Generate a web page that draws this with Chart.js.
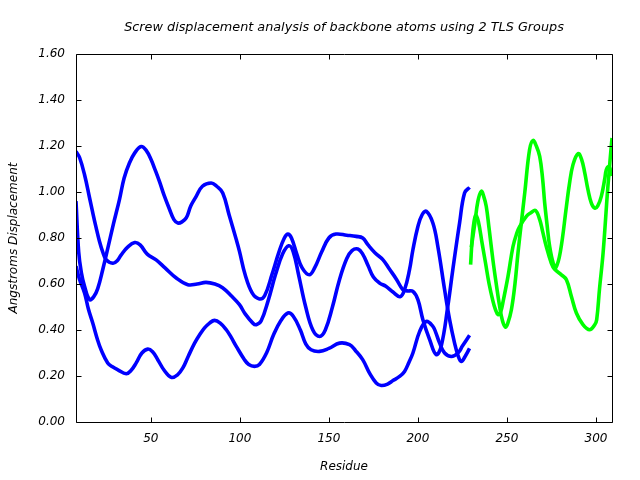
<!DOCTYPE html>
<html>
<head>
<meta charset="utf-8">
<script src="https://cdn.jsdelivr.net/npm/chart.js@4/dist/chart.umd.min.js"></script>
<style>
  html, body { margin: 0; padding: 0; background: #fff; }
  canvas { display: block; }
</style>
</head>
<body>
<canvas id="c" width="640" height="480"></canvas>
<script>
// ---- Data ----
const chartTitle = 'Screw displacement analysis of backbone atoms using 2 TLS Groups';
const xAxisTitle = 'Residue';
const yAxisTitle = 'Angstroms Displacement';
const xTickValues = [50, 100, 150, 200, 250, 300];
const yTickValues = [0.0, 0.2, 0.4, 0.6, 0.8, 1.0, 1.2, 1.4, 1.6];

// TLS group 1 (blue), three screw components
const group1AResidues = [8, 9.5, 11, 12.8, 15.6, 18, 20.2, 23, 26, 29, 32.4, 35, 38, 41, 44.6, 47.5, 50.2, 52.5, 54.9, 57.5, 60.5, 63, 65.2, 67.5, 69.9, 72.5, 75.5, 79, 83.9, 87, 90.4, 94, 98, 99.8, 103, 107, 111, 114, 118, 122, 125, 127, 129, 132, 135, 139, 142, 146, 150, 154, 160, 165.4, 169, 172, 176, 180.3, 184, 188, 191.6, 194, 197.2, 200, 202.8, 206.6, 210.3, 213.1, 216.8, 219.6, 223.4, 226.2, 229];
const group1AValues = [0.96, 0.74, 0.65, 0.59, 0.532, 0.545, 0.58, 0.662, 0.76, 0.86, 0.967, 1.06, 1.126, 1.17, 1.198, 1.18, 1.14, 1.095, 1.045, 0.985, 0.925, 0.88, 0.865, 0.87, 0.887, 0.94, 0.981, 1.025, 1.039, 1.025, 0.996, 0.90, 0.793, 0.742, 0.64, 0.56, 0.535, 0.55, 0.64, 0.74, 0.80, 0.817, 0.80, 0.73, 0.67, 0.64, 0.67, 0.74, 0.80, 0.817, 0.812, 0.807, 0.80, 0.77, 0.735, 0.706, 0.665, 0.62, 0.575, 0.57, 0.568, 0.532, 0.445, 0.358, 0.293, 0.33, 0.503, 0.662, 0.865, 0.996, 1.02];

const group1BResidues = [8, 10, 12.8, 15.6, 17.4, 19.3, 21.2, 23, 24.9, 28.7, 31, 33.4, 37, 41, 44, 48, 53, 58, 64.3, 70.8, 76, 81, 86, 90.3, 95, 99.8, 103, 107.3, 109.2, 112, 116, 120, 124, 127.5, 130, 133, 137, 141, 144.8, 148, 152, 156, 160, 163, 166.3, 169, 172, 175, 178.5, 182, 186, 190, 192.5, 195.3, 197.2, 200, 202.3, 204.7, 208.4, 211.2, 215, 217.8, 220.6, 222.5, 224.4, 226.5, 229];
const group1BValues = [1.176, 1.15, 1.075, 0.975, 0.91, 0.845, 0.785, 0.74, 0.706, 0.69, 0.70, 0.727, 0.76, 0.78, 0.77, 0.73, 0.705, 0.67, 0.626, 0.597, 0.600, 0.607, 0.60, 0.584, 0.55, 0.51, 0.47, 0.43, 0.423, 0.44, 0.53, 0.64, 0.73, 0.766, 0.74, 0.64, 0.50, 0.40, 0.372, 0.40, 0.50, 0.62, 0.71, 0.745, 0.752, 0.73, 0.68, 0.63, 0.604, 0.59, 0.565, 0.545, 0.575, 0.662, 0.749, 0.85, 0.90, 0.916, 0.865, 0.763, 0.575, 0.445, 0.343, 0.29, 0.263, 0.285, 0.32];

const group1CResidues = [8, 10, 12.8, 15, 17.4, 20, 22.1, 25.8, 28.5, 31.5, 36.2, 39, 41.8, 45, 48.3, 51, 53.9, 57.5, 61.5, 65, 68, 71, 74.6, 77.5, 80.2, 83, 85.8, 89, 92.4, 95, 98, 102.6, 105, 108.2, 111, 115, 119, 123, 127, 130, 134, 137, 140, 144.8, 150, 156, 161.6, 165, 169, 173, 176.6, 179.4, 183, 186, 189.7, 192.5, 195, 197.2, 201, 204.7, 208.4, 210, 212.2, 215, 218.8, 222.5, 225, 229];
const group1CValues = [0.677, 0.62, 0.561, 0.49, 0.43, 0.36, 0.314, 0.257, 0.24, 0.227, 0.21, 0.225, 0.257, 0.30, 0.317, 0.305, 0.271, 0.225, 0.194, 0.205, 0.235, 0.285, 0.343, 0.38, 0.409, 0.43, 0.442, 0.43, 0.401, 0.37, 0.329, 0.271, 0.25, 0.242, 0.25, 0.30, 0.38, 0.44, 0.474, 0.46, 0.40, 0.34, 0.314, 0.307, 0.32, 0.343, 0.336, 0.31, 0.271, 0.21, 0.17, 0.159, 0.165, 0.18, 0.198, 0.22, 0.26, 0.30, 0.394, 0.437, 0.416, 0.39, 0.343, 0.30, 0.285, 0.30, 0.33, 0.377];

// TLS group 2 (green), two visible screw components
const group2AResidues = [230, 231.9, 233.7, 235.6, 237, 238.4, 240, 242.1, 244, 245.9, 247.5, 249.1, 250.5, 252.5, 254.5, 256.2, 258, 260, 262.7, 264.6, 266.5, 268.4, 270, 271.2, 272.5, 274, 276, 277.5, 280, 283.4, 285, 287.1, 290, 292, 293.7, 295.5, 297.4, 299.3, 301, 303, 305, 305.8, 307.1, 308, 309];
const group2AValues = [0.76, 0.86, 0.96, 1.003, 0.98, 0.937, 0.84, 0.706, 0.60, 0.503, 0.44, 0.413, 0.43, 0.488, 0.60, 0.735, 0.86, 0.996, 1.184, 1.224, 1.20, 1.155, 1.06, 0.952, 0.86, 0.763, 0.69, 0.672, 0.74, 0.937, 1.03, 1.119, 1.167, 1.14, 1.083, 1.01, 0.952, 0.93, 0.94, 0.981, 1.06, 1.097, 1.111, 1.10, 1.07];

const group2BResidues = [229.6, 230.5, 231.5, 232.5, 234, 236, 238, 240, 242, 243.5, 245, 246.5, 248, 250.6, 253.4, 255.5, 257.2, 260.9, 263.5, 266, 268.4, 270, 272.1, 274.9, 276.7, 280.6, 283.4, 286.2, 289, 292.7, 296.4, 299.3, 300.4, 302, 304, 306.7, 309];
const group2BValues = [0.684, 0.80, 0.87, 0.90, 0.87, 0.78, 0.69, 0.60, 0.53, 0.49, 0.467, 0.48, 0.53, 0.633, 0.763, 0.82, 0.85, 0.894, 0.91, 0.92, 0.88, 0.83, 0.763, 0.691, 0.665, 0.64, 0.619, 0.546, 0.474, 0.423, 0.401, 0.423, 0.445, 0.58, 0.735, 1.024, 1.235];

const blue = '#0000ff';
const green = '#00ff00';

// ---- Build ----
function pairs(xs, ys) { return xs.map((x, i) => ({ x: x, y: ys[i] })); }
function series(label, xs, ys, color) {
  return {
    label: label,
    data: pairs(xs, ys),
    borderColor: color,
    backgroundColor: color,
    borderWidth: 3.6,
    pointRadius: 0,
    fill: false,
    tension: 0.4
  };
}

const FONT = 'DejaVu Sans';
const baseFont = { family: FONT, size: 12, style: 'italic', weight: 'normal' };
const titleFont = { family: FONT, size: 12.8, style: 'italic', weight: 'normal' };

const framePlugin = {
  id: 'frame',
  afterDatasetsDraw(chart) {
    const { ctx, chartArea: a, scales } = chart;
    const xs = scales.x, ys = scales.y;
    const L = Math.round(a.left) + 0.5, R = Math.round(a.right) + 0.5;
    const T = Math.round(a.top) + 0.5, B = Math.round(a.bottom) + 0.5;
    const tl = 5;
    ctx.save();
    ctx.strokeStyle = '#000';
    ctx.lineWidth = 1;
    ctx.beginPath();
    ctx.rect(L, T, R - L, B - T);
    xTickValues.forEach(v => {
      const px = Math.round(xs.getPixelForValue(v)) + 0.5;
      ctx.moveTo(px, B); ctx.lineTo(px, B - tl);
      ctx.moveTo(px, T); ctx.lineTo(px, T + tl);
    });
    yTickValues.forEach(v => {
      const py = Math.round(ys.getPixelForValue(v)) + 0.5;
      ctx.moveTo(L, py); ctx.lineTo(L + tl, py);
      ctx.moveTo(R, py); ctx.lineTo(R - tl, py);
    });
    ctx.stroke();
    ctx.restore();
  }
};

new Chart(document.getElementById('c').getContext('2d'), {
  type: 'line',
  data: {
    datasets: [
      series('Group 1 A', group1AResidues, group1AValues, blue),
      series('Group 1 B', group1BResidues, group1BValues, blue),
      series('Group 1 C', group1CResidues, group1CValues, blue),
      series('Group 2 A', group2AResidues, group2AValues, green),
      series('Group 2 B', group2BResidues, group2BValues, green)
    ]
  },
  options: {
    responsive: false,
    animation: false,
    devicePixelRatio: 1,
    layout: { padding: { left: 0, right: 28, top: 0, bottom: 0 } },
    plugins: {
      legend: { display: false },
      tooltip: { enabled: false },
      title: {
        display: true,
        text: chartTitle,
        fullSize: false,
        color: '#000',
        font: titleFont,
        padding: { top: 19.6, bottom: 19.04 }
      }
    },
    scales: {
      x: {
        type: 'linear',
        min: 8,
        max: 309,
        afterBuildTicks: s => { s.ticks = xTickValues.map(v => ({ value: v })); },
        afterFit: s => { s.height = 58; },
        grid: { display: false, drawTicks: false },
        border: { display: false },
        ticks: { color: '#000', font: baseFont, padding: 10, maxRotation: 0, autoSkip: false },
        title: { display: true, text: xAxisTitle, color: '#000', font: baseFont, padding: { top: 0, bottom: 5.8 } }
      },
      y: {
        type: 'linear',
        min: 0,
        max: 1.6,
        afterBuildTicks: s => { s.ticks = yTickValues.map(v => ({ value: v })); },
        afterFit: s => { s.width = 76; },
        grid: { display: false, drawTicks: false },
        border: { display: false },
        ticks: { color: '#000', font: baseFont, padding: 11, callback: v => Number(v).toFixed(2), autoSkip: false },
        title: { display: true, text: yAxisTitle, color: '#000', font: baseFont, padding: { top: 6.3, bottom: 0 } }
      }
    }
  },
  plugins: [framePlugin]
});
</script>
</body>
</html>
